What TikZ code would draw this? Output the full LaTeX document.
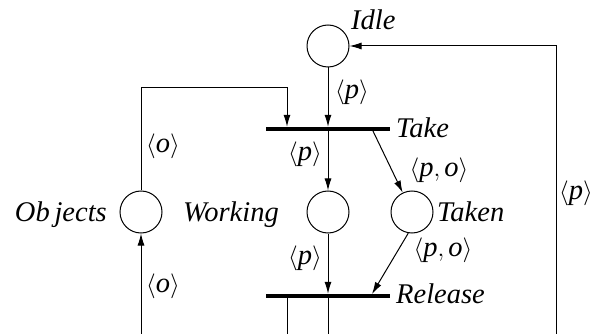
\documentclass[tikz,border=0pt]{standalone}
\usepackage{fontspec}
\setmainfont{Liberation Serif}
\usetikzlibrary{arrows.meta,calc}

\tikzset{
  place/.style={draw,circle,minimum size=42pt,inner sep=0pt,line width=1pt},
  trans/.style={fill=black,minimum width=124pt,minimum height=4pt,inner sep=0pt},
  arc/.style={line width=1pt,-{Latex[length=12pt,width=7pt]}},
  lbl/.style={inner sep=0pt,font=\fontsize{28.5}{32}\selectfont\itshape},
}

\begin{document}
\begin{tikzpicture}[x=1pt,y=-1pt]
		\clip (0,0) rectangle (592,334);

		% places and transitions
		\node[place] (idle) at (328,46) {};
		\node[trans] (take) at (328,129) {};
		\node[place] (objects) at (141,212) {};
		\node[place] (working) at (328,212) {};
		\node[place] (taken) at (412,212) {};
		\node[trans] (release) at (328,296) {};

		\node[lbl,anchor=base west] at (351,30) {Idle};
		\node[lbl,anchor=base west] at (396,138) {Take};
		\node[lbl,anchor=base east] at (107,221) {Ob\,jects};
		\node[lbl,anchor=base west] at (183,221) {Working};
		\node[lbl,anchor=base west] at (437,221) {Taken};
		\node[lbl,anchor=base west] at (396,303) {Release};

		% free ends
		\coordinate (tk-o) at (287,88);
		\coordinate (tk-t) at (372,129);
		\coordinate (rl-t) at (372,294);
		\coordinate (ob-in) at (141,345);
		\coordinate (rl-a) at (287,345);
		\coordinate (rl-b) at (328,345);
		\coordinate (loop) at (556,345);

		% arcs
		\draw[arc] (idle) -- (take);
		\draw[arc] (objects) |- (tk-o) -- (take.north -| tk-o);
		\draw[arc] (take) -- (working);
		\draw[arc] (tk-t) -- (taken);
		\draw[arc] (working) -- (release);
		\draw[arc] (taken.-100) -- (rl-t);
		\draw[arc] (ob-in) -- (objects);
		\draw[line width=1pt] (release.south -| rl-a) -- (rl-a);
		\draw[line width=1pt] (release) -- (rl-b);
		\draw[arc] (loop) |- (idle);

		% inscriptions
		\node[lbl] at (352,92) {$\langle\mathit{p}\rangle$};
		\node[lbl] at (163,146) {$\langle\mathit{o}\rangle$};
		\node[lbl] at (305,154) {$\langle\mathit{p}\rangle$};
		\node[lbl] at (439,170) {$\langle\mathit{p},\mathit{o}\rangle$};
		\node[lbl] at (305,258) {$\langle\mathit{p}\rangle$};
		\node[lbl] at (443,250) {$\langle\mathit{p},\mathit{o}\rangle$};
		\node[lbl] at (163,286) {$\langle\mathit{o}\rangle$};
		\node[lbl,anchor=west] at (559,193) {$\langle\mathit{p}\rangle$};
\end{tikzpicture}
\end{document}
